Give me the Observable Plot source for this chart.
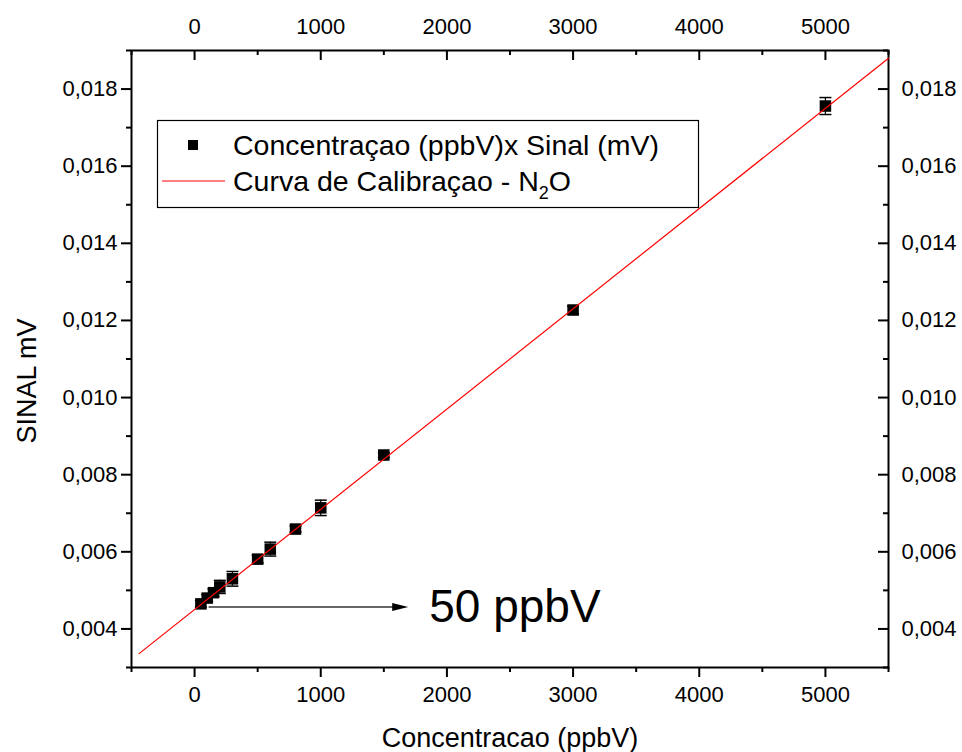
<!DOCTYPE html>
<html>
<head>
<meta charset="utf-8">
<script src="https://cdn.jsdelivr.net/npm/d3@7"></script>
<script src="https://cdn.jsdelivr.net/npm/@observablehq/plot@0.6"></script>
<style>
  html, body { margin: 0; padding: 0; background: white; }
  #chart { position: relative; width: 962px; height: 752px; }
</style>
</head>
<body>
<div id="chart"></div>
<script>
// ---- data ----
const conc   = [50, 100, 150, 200, 300, 500, 600, 800, 1000, 1500, 3000, 5000];
const signal = [0.00465, 0.0048, 0.00494, 0.00509, 0.0053, 0.00581, 0.00607, 0.00659, 0.00714, 0.00851, 0.01227, 0.01756];
const errs   = [0.00009, 0.00009, 0.0001, 0.00017, 0.00019, 0.0001, 0.00018, 0.00008, 0.0002, 0.00006, 0.0001, 0.00022];

const fitX = [-440, 5500];
const fitY = [0.00336, 0.0188];

const xMajor = [0, 1000, 2000, 3000, 4000, 5000];
const xMinor = [-500, 500, 1500, 2500, 3500, 4500, 5500];
const yMajor = [0.004, 0.006, 0.008, 0.010, 0.012, 0.014, 0.016, 0.018];
const yMinor = [0.003, 0.005, 0.007, 0.009, 0.011, 0.013, 0.015, 0.017, 0.019];

const arrowX = [111, 1693];
const arrowY = 0.00457;
const noteText = "50 ppbV";
const noteX = 1860;
const noteY = 0.00455;

const xTitle = "Concentracao (ppbV)";
const yTitle = "SINAL mV";
const legendLabels = ["Concentraçao (ppbV)x Sinal (mV)", "Curva de Calibraçao - N", "2", "O"];

// ---- build ----
const pts = conc.map((c, i) => ({x: c, y: signal[i], e: errs[i]}));
const fit = fitX.map((x, i) => ({x, y: fitY[i]}));
const fmt = d => d3.format(".3f")(d).replace(".", ",");

const W = 962, H = 752;
const mL = 131, mR = 74, mT = 50, mB = 85;
const pw = W - mL - mR, ph = H - mT - mB;

const capSymbol = {draw(ctx, size) { const r = 6; ctx.moveTo(-r, 0); ctx.lineTo(r, 0); }};
const headSymbol = {draw(ctx, size) { ctx.moveTo(0, 0); ctx.lineTo(-16, -4); ctx.lineTo(-16, 4); ctx.closePath(); }};

const FONT = "'Liberation Sans', Arial, sans-serif";

const plot = Plot.plot({
  width: W, height: H,
  marginLeft: mL, marginRight: mR, marginTop: mT, marginBottom: mB,
  style: {fontFamily: FONT, fontSize: "22px", background: "white", color: "black", overflow: "visible"},
  x: {domain: [-500, 5500]},
  y: {domain: [0.003, 0.019]},
  marks: [
    // bottom axis
    Plot.axisX({anchor: "bottom", ticks: xMajor, tickSize: 10, tickPadding: 9, strokeWidth: 2, label: null, fontSize: 22, tickFormat: d => String(d)}),
    Plot.axisX({anchor: "bottom", ticks: xMinor, tickSize: 5, strokeWidth: 2, label: null, tickFormat: () => ""}),
    // top axis (labels outside, ticks inward)
    Plot.axisX({anchor: "top", ticks: xMajor, tickSize: 0, tickPadding: 17, label: null, fontSize: 22, tickFormat: d => String(d)}),
    Plot.ruleX(xMajor, {x: d => d, insetBottom: ph - 10, strokeWidth: 2}),
    Plot.ruleX(xMinor, {x: d => d, insetBottom: ph - 5, strokeWidth: 2}),
    // left axis
    Plot.axisY({anchor: "left", ticks: yMajor, tickSize: 10, tickPadding: 4, strokeWidth: 2, label: null, fontSize: 22, tickFormat: fmt}),
    Plot.axisY({anchor: "left", ticks: yMinor, tickSize: 5, strokeWidth: 2, label: null, tickFormat: () => ""}),
    // right axis (labels outside, ticks inward)
    Plot.axisY({anchor: "right", ticks: yMajor, tickSize: 0, tickPadding: 13, label: null, fontSize: 22, tickFormat: fmt}),
    Plot.ruleY(yMajor, {y: d => d, insetLeft: pw - 10, strokeWidth: 2}),
    Plot.ruleY(yMinor, {y: d => d, insetLeft: pw - 5, strokeWidth: 2}),
    Plot.frame({stroke: "black", strokeWidth: 2}),
    // error bars
    Plot.ruleX(pts, {x: "x", y1: d => d.y - d.e, y2: d => d.y + d.e, stroke: "black", strokeWidth: 1.2}),
    Plot.dot(pts, {x: "x", y: d => d.y - d.e, symbol: capSymbol, stroke: "black", strokeWidth: 1.5, fill: "none"}),
    Plot.dot(pts, {x: "x", y: d => d.y + d.e, symbol: capSymbol, stroke: "black", strokeWidth: 1.5, fill: "none"}),
    // points
    Plot.dot(pts, {x: "x", y: "y", symbol: "square", r: 6.5, fill: "black", stroke: "none"}),
    // fit line
    Plot.line(fit, {x: "x", y: "y", stroke: "#ff0000", strokeWidth: 1.2}),
    // arrow annotation
    Plot.link([{x1: arrowX[0], x2: arrowX[1] - 120, y: arrowY}], {x1: "x1", x2: "x2", y1: "y", y2: "y", stroke: "#666", strokeWidth: 2}),
    Plot.dot([{x: arrowX[1], y: arrowY}], {x: "x", y: "y", symbol: headSymbol, fill: "black", stroke: "none"}),
    Plot.text([{x: noteX, y: noteY, t: noteText}], {x: "x", y: "y", text: "t", fontSize: 46, textAnchor: "start", fill: "black"}),
    // axis titles
    Plot.text([xTitle], {frameAnchor: "bottom", dy: 79, fontSize: 27, textAnchor: "middle", fill: "black"}),
    Plot.text([yTitle], {frameAnchor: "left", dx: -104, dy: 22, rotate: -90, fontSize: 27, textAnchor: "middle", fill: "black"})
  ]
});

document.getElementById("chart").appendChild(plot);

// legend (drawn inside the plot area, as in the original)
const svg = d3.select(plot);
const lg = svg.append("g").attr("font-family", FONT).attr("text-anchor", "start");
lg.append("rect").attr("x", 157.5).attr("y", 120.5).attr("width", 541).attr("height", 87)
  .attr("fill", "white").attr("stroke", "black").attr("stroke-width", 1.2);
lg.append("rect").attr("x", 188).attr("y", 140).attr("width", 10).attr("height", 10).attr("fill", "black");
lg.append("text").attr("x", 233).attr("y", 145).attr("dy", "0.35em").attr("font-size", 28.5).text(legendLabels[0]);
lg.append("line").attr("x1", 162).attr("x2", 225).attr("y1", 181).attr("y2", 181).attr("stroke", "#ff0000").attr("stroke-width", 1.2);
const t2 = lg.append("text").attr("x", 233).attr("y", 181).attr("dy", "0.35em").attr("font-size", 28.5);
t2.append("tspan").text(legendLabels[1]);
t2.append("tspan").attr("font-size", 18).attr("dy", 8).text(legendLabels[2]);
t2.append("tspan").attr("dy", -8).text(legendLabels[3]);
</script>
</body>
</html>
